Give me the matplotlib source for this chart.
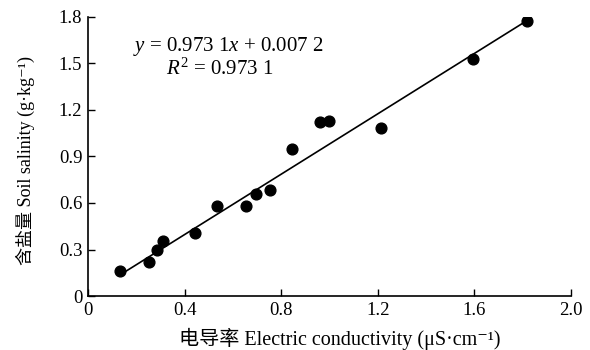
import numpy as np
import matplotlib
matplotlib.use('Agg')
from matplotlib import pyplot as plt

# Dữ liệu
ec = [0.134, 0.251, 0.286, 0.311, 0.443, 0.536, 0.653, 0.696, 0.754,
      0.845, 0.961, 0.999, 1.214, 1.594, 1.819]
salinity = [0.161, 0.219, 0.296, 0.356, 0.409, 0.581, 0.581, 0.660, 0.684,
            0.947, 1.119, 1.129, 1.084, 1.526, 1.770]
slope = 0.9731
intercept = 0.0072
x_ticks = [0, 0.4, 0.8, 1.2, 1.6, 2.0]
x_tick_labels = ['0', '0.4', '0.8', '1.2', '1.6', '2.0']
y_ticks = [0, 0.3, 0.6, 0.9, 1.2, 1.5, 1.8]
y_tick_labels = ['0', '0.3', '0.6', '0.9', '1.2', '1.5', '1.8']

fonts = ['Liberation Serif', 'DejaVu Serif', 'Noto Sans CJK SC']
plt.rcParams['font.family'] = fonts
plt.rcParams['mathtext.fontset'] = 'custom'
plt.rcParams['mathtext.rm'] = 'Liberation Serif'
plt.rcParams['mathtext.it'] = 'Liberation Serif:italic'

fig = plt.figure(figsize=(5.9, 3.5), dpi=100)
ax = fig.add_axes([0.149, 0.154, 0.819, 0.798])

ax.scatter(ec, salinity, s=60, color='black', zorder=3)

# Đường hồi quy
xl = np.array([min(ec), max(ec)])
ax.plot(xl, slope * xl + intercept, color='black', lw=1.2)

ax.set_xlim(0, 2.0)
ax.set_ylim(0, 1.8)
ax.set_xticks(x_ticks)
ax.set_xticklabels(x_tick_labels)
ax.set_yticks(y_ticks)
ax.set_yticklabels(y_tick_labels)
ax.tick_params(direction='in', length=5, width=1, labelsize=13.5, pad=4)
ax.spines['top'].set_visible(False)
ax.spines['right'].set_visible(False)
ax.spines['left'].set_linewidth(1.2)
ax.spines['bottom'].set_linewidth(1.2)

ax.text(0.58, 1.606, '$y$ = 0.973 1$x$ + 0.007 2', fontsize=15, ha='center', va='center')
ax.text(0.547, 1.464, '$R^2$ = 0.973 1', fontsize=15, ha='center', va='center')

ax.set_xlabel('电导率 Electric conductivity (μS·cm⁻¹)', fontsize=14.5)
ax.set_ylabel('含盐量 Soil salinity (g·kg⁻¹)', fontsize=13)
ax.xaxis.set_label_coords(0.522, -0.154)
ax.yaxis.set_label_coords(-0.130, 0.484)
ax.xaxis.label.set_va('center')
ax.yaxis.label.set_va('center')

plt.savefig('out.png', dpi=100)
